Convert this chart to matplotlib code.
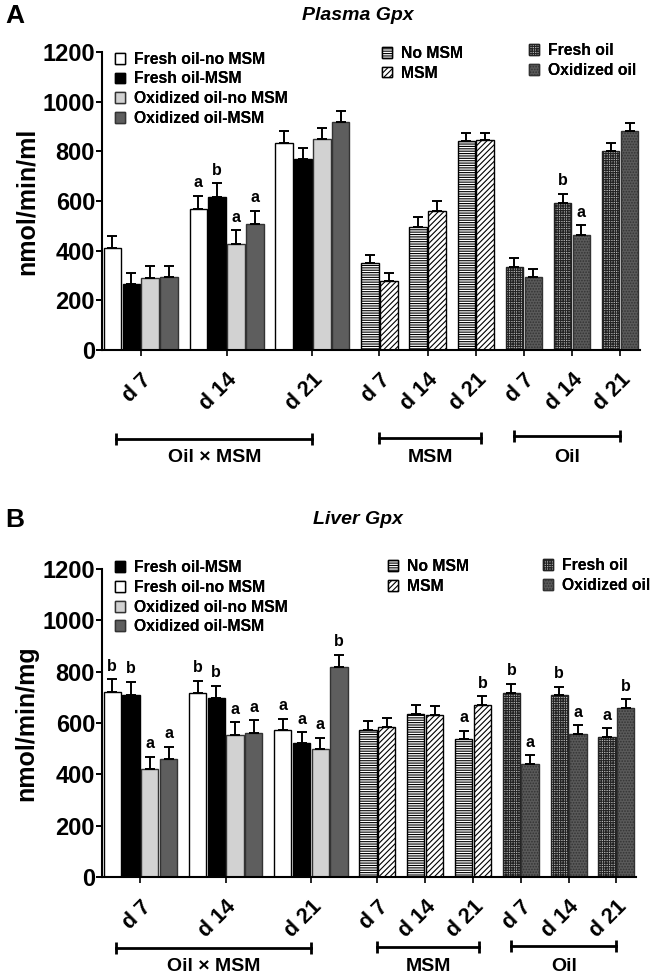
import numpy as np
import matplotlib
matplotlib.use("Agg")
import matplotlib.pyplot as plt
from matplotlib.patches import Patch
from matplotlib.transforms import blended_transform_factory

plt.rcParams['font.family'] = ['Liberation Sans', 'DejaVu Sans']
plt.rcParams['font.weight'] = 'bold'
plt.rcParams['hatch.linewidth'] = 0.8

days = ['d 7', 'd 14', 'd 21']

# ---- Plasma Gpx (panel A) ----
a_fresh_no_msm = [410, 568, 835]
a_fresh_no_msm_err = [48, 53, 45]
a_fresh_msm = [264, 615, 769]
a_fresh_msm_err = [47, 56, 46]
a_ox_no_msm = [291, 426, 848]
a_ox_no_msm_err = [47, 57, 46]
a_ox_msm = [294, 506, 917]
a_ox_msm_err = [44, 55, 47]
a_no_msm = [349, 497, 840]
a_no_msm_err = [34, 39, 35]
a_msm = [278, 560, 844]
a_msm_err = [33, 39, 31]
a_fresh = [336, 591, 801]
a_fresh_err = [33, 39, 34]
a_oxidized = [293, 465, 882]
a_oxidized_err = [32, 37, 33]
a_letters_int = [['', '', '', ''], ['a', 'b', 'a', 'a'], ['', '', '', '']]
a_letters_msm = [['', ''], ['', ''], ['', '']]
a_letters_oil = [['', ''], ['b', 'a'], ['', '']]

# ---- Liver Gpx (panel B) ----
b_fresh_no_msm = [722, 716, 573]
b_fresh_no_msm_err = [49, 49, 44]
b_fresh_msm = [709, 699, 521]
b_fresh_msm_err = [51, 46, 43]
b_ox_no_msm = [419, 555, 497]
b_ox_no_msm_err = [50, 48, 46]
b_ox_msm = [458, 562, 819]
b_ox_msm_err = [50, 48, 46]
b_no_msm = [573, 636, 536]
b_no_msm_err = [35, 34, 34]
b_msm = [586, 631, 670]
b_msm_err = [35, 34, 34]
b_fresh = [717, 708, 547]
b_fresh_err = [36, 34, 32]
b_oxidized = [440, 558, 660]
b_oxidized_err = [34, 34, 32]
b_letters_int = [['b', 'b', 'a', 'a'], ['b', 'b', 'a', 'a'], ['a', 'a', 'a', 'b']]
b_letters_msm = [['', ''], ['', ''], ['a', 'b']]
b_letters_oil = [['b', 'a'], ['b', 'a'], ['a', 'b']]

# bar styles
st_fno = dict(facecolor='white', edgecolor='black')
st_fm = dict(facecolor='black', edgecolor='black')
st_ono = dict(facecolor='#d2d2d2', edgecolor='#333333')
st_om = dict(facecolor='#5e5e5e', edgecolor='#333333')
st_nomsm = dict(facecolor='white', edgecolor='black', hatch='-------')
st_msm = dict(facecolor='white', edgecolor='black', hatch='//////')
st_fresh = dict(facecolor='#bbbbbb', edgecolor='#222222', hatch='+++++++')
st_oxid = dict(facecolor='#5a5a5a', edgecolor='#333333', hatch='......')

GAP = 0.55
BW = 0.92


def layout():
    sizes = [4, 4, 4, 2, 2, 2, 2, 2, 2]
    starts, x = [], 0.0
    for n in sizes:
        starts.append(x)
        x += n + GAP
    return sizes, starts, x - GAP


def draw_panel(ax, series_int, series_msm, series_oil, letters):
    sizes, starts, total = layout()
    groups = []
    for d in range(3):
        groups.append([(s[0][d], s[1][d], s[2]) for s in series_int])
    for d in range(3):
        groups.append([(s[0][d], s[1][d], s[2]) for s in series_msm])
    for d in range(3):
        groups.append([(s[0][d], s[1][d], s[2]) for s in series_oil])
    centers = []
    for g, (start, bars, lets) in enumerate(zip(starts, groups, letters)):
        for i, (v, e, st) in enumerate(bars):
            xc = start + i + 0.5
            ax.bar(xc, v, width=BW, linewidth=1.0, zorder=2, **st)
            ax.errorbar(xc, v, yerr=[[0], [e]], fmt='none', ecolor='black',
                        elinewidth=1.4, capsize=3.4, capthick=1.4, zorder=3)
            if lets[i]:
                ax.annotate(lets[i], (xc, v + e), xytext=(0, 4),
                            textcoords='offset points', ha='center', va='bottom',
                            fontsize=11.5, fontweight='bold')
        centers.append(start + len(bars) / 2)
    ax.set_xlim(-0.05, total + 0.05)
    ax.set_ylim(0, 1200)
    ax.set_yticks(range(0, 1201, 200))
    ax.set_xticks(centers)
    ax.set_xticklabels(days * 3, rotation=45, ha='right', va='top',
                       rotation_mode='anchor', fontsize=15.5, fontweight='bold')
    ax.tick_params(axis='y', labelsize=17, width=1.4, length=4, pad=1)
    ax.tick_params(axis='x', width=1.2, length=4, pad=10)
    for lab in ax.get_yticklabels():
        lab.set_fontweight('bold')
    ax.spines['top'].set_visible(False)
    ax.spines['right'].set_visible(False)
    ax.spines['left'].set_linewidth(1.5)
    ax.spines['bottom'].set_linewidth(1.5)
    return centers


def brackets(ax, centers, y_line, y_text):
    tr = blended_transform_factory(ax.transData, ax.transAxes)
    spans = [(centers[0] - 1.3, centers[2], 'Oil × MSM'),
             (centers[3], centers[5] + 0.3, 'MSM'),
             (centers[6] - 0.5, centers[8], 'Oil')]
    for k, (x0, x1, lab) in enumerate(spans):
        yl = y_line + 0.004 * k
        ax.plot([x0, x1], [yl, yl], transform=tr, color='black', lw=2,
                clip_on=False, marker='|', markersize=9, markeredgewidth=2)
        ax.text((x0 + x1) / 2, y_text, lab, transform=tr, ha='center',
                va='center', fontsize=14, fontweight='bold')


def legends(fig, int_order, pos):
    int_handles = {
        'Fresh oil-no MSM': Patch(linewidth=1, **st_fno),
        'Fresh oil-MSM': Patch(linewidth=1, **st_fm),
        'Oxidized oil-no MSM': Patch(linewidth=1, **st_ono),
        'Oxidized oil-MSM': Patch(linewidth=1, **st_om),
    }
    sets = [
        ([int_handles[k] for k in int_order], int_order),
        ([Patch(linewidth=1, **st_nomsm), Patch(linewidth=1, **st_msm)], ['No MSM', 'MSM']),
        ([Patch(linewidth=1, **st_fresh), Patch(linewidth=1, **st_oxid)], ['Fresh oil', 'Oxidized oil']),
    ]
    for (h, l), p in zip(sets, pos):
        leg = fig.legend(h, l, loc='upper left', bbox_to_anchor=p,
                         bbox_transform=fig.transFigure, frameon=False,
                         borderpad=0, borderaxespad=0, handlelength=0.62,
                         handleheight=0.68, handletextpad=0.6, labelspacing=0.3,
                         prop=dict(size=11.3, weight='bold'))
        fig.add_artist(leg)


fig = plt.figure(figsize=(6.64, 9.76), dpi=100)

axA = fig.add_axes([0.1536, 0.6414, 0.8102, 0.3053])
cA = draw_panel(
    axA,
    [(a_fresh_no_msm, a_fresh_no_msm_err, st_fno), (a_fresh_msm, a_fresh_msm_err, st_fm),
     (a_ox_no_msm, a_ox_no_msm_err, st_ono), (a_ox_msm, a_ox_msm_err, st_om)],
    [(a_no_msm, a_no_msm_err, st_nomsm), (a_msm, a_msm_err, st_msm)],
    [(a_fresh, a_fresh_err, st_fresh), (a_oxidized, a_oxidized_err, st_oxid)],
    a_letters_int + a_letters_msm + a_letters_oil)
axA.set_ylabel('nmol/min/ml', fontsize=18, fontweight='bold', labelpad=3)
brackets(axA, cA, -0.298, -0.362)

axB = fig.add_axes([0.1536, 0.1014, 0.8042, 0.3156])
cB = draw_panel(
    axB,
    [(b_fresh_no_msm, b_fresh_no_msm_err, st_fno), (b_fresh_msm, b_fresh_msm_err, st_fm),
     (b_ox_no_msm, b_ox_no_msm_err, st_ono), (b_ox_msm, b_ox_msm_err, st_om)],
    [(b_no_msm, b_no_msm_err, st_nomsm), (b_msm, b_msm_err, st_msm)],
    [(b_fresh, b_fresh_err, st_fresh), (b_oxidized, b_oxidized_err, st_oxid)],
    b_letters_int + b_letters_msm + b_letters_oil)
axB.set_ylabel('nmol/min/mg', fontsize=18, fontweight='bold', labelpad=3)
brackets(axB, cB, -0.232, -0.29)

legends(fig, ['Fresh oil-no MSM', 'Fresh oil-MSM', 'Oxidized oil-no MSM', 'Oxidized oil-MSM'],
        [(0.173, 0.947), (0.575, 0.953), (0.797, 0.956)])
legends(fig, ['Fresh oil-MSM', 'Fresh oil-no MSM', 'Oxidized oil-no MSM', 'Oxidized oil-MSM'],
        [(0.173, 0.426), (0.584, 0.427), (0.818, 0.428)])

fig.text(358 / 664, 1 - 16 / 976, 'Plasma Gpx', ha='center', va='center',
         fontsize=14, fontweight='bold', style='italic')
fig.text(358 / 664, 1 - 520 / 976, 'Liver Gpx', ha='center', va='center',
         fontsize=14, fontweight='bold', style='italic')
fig.text(0.008, 1 - 16 / 976, 'A', ha='left', va='center', fontsize=19, fontweight='bold')
fig.text(0.008, 1 - 520 / 976, 'B', ha='left', va='center', fontsize=19, fontweight='bold')

fig.savefig('out.png', dpi=100, facecolor='white')
